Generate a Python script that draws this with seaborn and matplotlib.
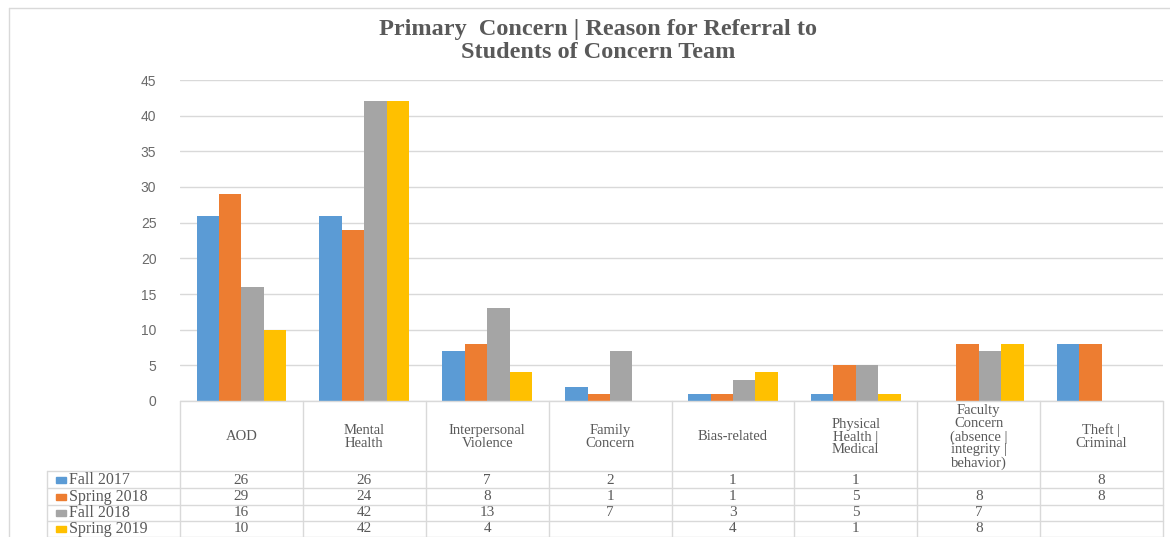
import numpy as np
import pandas as pd
import matplotlib
matplotlib.use("Agg")
import matplotlib.pyplot as plt
import matplotlib.transforms as mtransforms
from matplotlib.lines import Line2D
from matplotlib.patches import Rectangle
import seaborn as sns

# ---------------- data ----------------
categories = ["AOD", "Mental\nHealth", "Interpersonal\nViolence", "Family\nConcern",
              "Bias-related", "Physical\nHealth |\nMedical",
              "Faculty\nConcern\n(absence |\nintegrity |\nbehavior)", "Theft |\nCriminal"]
terms = ["Fall 2017", "Spring 2018", "Fall 2018", "Spring 2019"]
fall_2017 = [26, 26, 7, 2, 1, 1, np.nan, 8]
spring_2018 = [29, 24, 8, 1, 1, 5, 8, 8]
fall_2018 = [16, 42, 13, 7, 3, 5, 7, np.nan]
spring_2019 = [10, 42, 4, np.nan, 4, 1, 8, np.nan]
colors = ["#5B9BD5", "#ED7D31", "#A5A5A5", "#FFC000"]
y_ticks = [0, 5, 10, 15, 20, 25, 30, 35, 40, 45]
title = "Primary  Concern | Reason for Referral to\nStudents of Concern Team"

series = [fall_2017, spring_2018, fall_2018, spring_2019]
rows = []
for t, vals in zip(terms, series):
    for c, v in zip(categories, vals):
        rows.append({"category": c, "term": t, "value": v})
df = pd.DataFrame(rows)

# ---------------- figure ----------------
W, H = 1170, 537
sns.set_theme(style="white")
plt.rcParams["font.family"] = ["Liberation Serif", "DejaVu Serif"]
fig = plt.figure(figsize=(W / 100, H / 100), dpi=100)
fig.patch.set_facecolor("white")

def fy(py):
    return (H - py) / H

def fx(px):
    return px / W

ax_left, ax_right = 180, 1163
ax_bottom, ax_top = 401, 80
ax = fig.add_axes([fx(ax_left), fy(ax_bottom), (ax_right - ax_left) / W, (ax_bottom - ax_top) / H])

sns.barplot(data=df, x="category", y="value", hue="term", hue_order=terms,
            order=categories, palette=colors, width=0.73, gap=0, legend=False,
            saturation=1, ax=ax, errorbar=None, linewidth=0)

ax.set_ylim(0, 45)
ax.set_xlim(-0.5, len(categories) - 0.5)
ax.set_yticks(y_ticks)
ax.set_yticklabels([str(v) for v in y_ticks], family=["Liberation Sans", "DejaVu Sans"],
                   fontsize=10, color="#6A6A6A")
ax.tick_params(axis="y", length=0, pad=17)
ax.set_xticks([])
ax.set_xlabel("")
ax.set_ylabel("")
ax.yaxis.grid(True, color="#D9D9D9", linewidth=1)
ax.set_axisbelow(True)
for s in ax.spines.values():
    s.set_visible(False)

# ---------------- table ----------------
line_col = "#D9D9D9"
txt_col = "#595959"
blend = mtransforms.blended_transform_factory(ax.transData, fig.transFigure)

table_top = 401
header_bottom = 471
row_lines = [471, 488, 505, 521, 537]
row_centers = [480, 497, 513, 529]
label_left = 47

fig.add_artist(Line2D([fx(ax_left), fx(ax_right)], [fy(table_top), fy(table_top)],
                      color=line_col, lw=1))
for yl in row_lines:
    fig.add_artist(Line2D([fx(label_left), fx(ax_right)], [fy(yl), fy(yl)], color=line_col, lw=1))
for i in range(len(categories) + 1):
    xb = i - 0.5
    ax.add_line(Line2D([xb, xb], [fy(table_top), fy(H)], transform=blend,
                       color=line_col, lw=1, clip_on=False))
fig.add_artist(Line2D([fx(label_left), fx(label_left)], [fy(header_bottom), fy(H)],
                      color=line_col, lw=1))

for i, c in enumerate(categories):
    ax.text(i, fy((table_top + header_bottom) / 2 + 1), c, transform=blend, ha="center",
            va="center", fontsize=10.5, color=txt_col, linespacing=0.98, clip_on=False)

for r, (t, vals, col) in enumerate(zip(terms, series, colors)):
    yc = row_centers[r]
    fig.add_artist(Rectangle((fx(56), fy(yc + 3)), 10 / W, 6 / H, color=col,
                             transform=fig.transFigure))
    fig.text(fx(69), fy(yc), t, ha="left", va="center", fontsize=11.5, color=txt_col)
    for i, v in enumerate(vals):
        if not np.isnan(v):
            ax.text(i, fy(yc), str(int(v)), transform=blend, ha="center", va="center",
                    fontsize=11, color=txt_col, clip_on=False)

# chart border
fig.add_artist(Line2D([fx(9), 1], [fy(8), fy(8)], color=line_col, lw=1))
fig.add_artist(Line2D([fx(9), fx(9)], [fy(8), 0], color=line_col, lw=1))

# title
fig.text(fx(598), fy(41), title, ha="center", va="center", fontsize=17.5,
         fontweight="bold", color=txt_col, linespacing=1.1)

fig.savefig("out.png", dpi=100, facecolor="white")
